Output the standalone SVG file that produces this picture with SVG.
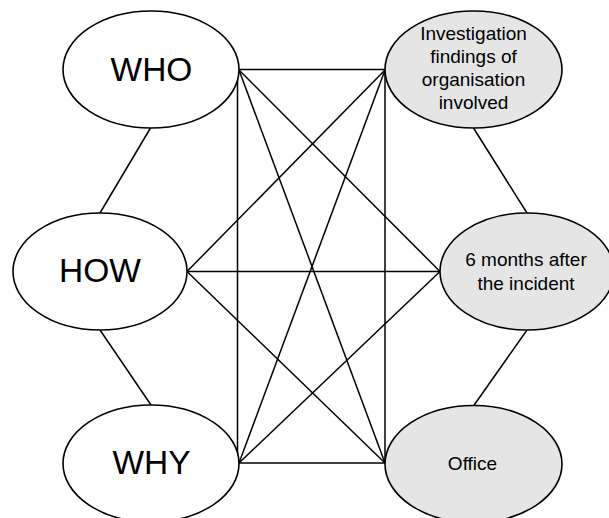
<svg xmlns="http://www.w3.org/2000/svg" width="609" height="518" viewBox="0 0 609 518">
<style>
.bg{fill:#ffffff}
.edge{stroke:#000;stroke-width:1.5;fill:none}
.node ellipse{stroke:#000;stroke-width:1.6}
.q ellipse{fill:#ffffff}
.a ellipse{fill:#e5e5e5}
.big{font-family:"Liberation Sans",Arial,sans-serif;font-size:33.5px;fill:#000;text-anchor:middle}
.small{font-family:"Liberation Sans",Arial,sans-serif;font-size:19px;fill:#000;text-anchor:middle}
</style>
<rect class="bg" x="0" y="0" width="609" height="518"/>
<g id="connectors">
<line class="edge" x1="239" y1="69.5" x2="385" y2="69.5"/>
<line class="edge" x1="187" y1="271.5" x2="440" y2="271.5"/>
<line class="edge" x1="239" y1="463" x2="385" y2="463"/>
<line class="edge" x1="237.5" y1="70" x2="237.5" y2="463"/>
<line class="edge" x1="385" y1="70" x2="385" y2="463"/>
<line class="edge" x1="239" y1="70" x2="440" y2="271.5"/>
<line class="edge" x1="239" y1="70" x2="385" y2="463"/>
<line class="edge" x1="187" y1="271.5" x2="385" y2="70"/>
<line class="edge" x1="187" y1="271.5" x2="385" y2="463"/>
<line class="edge" x1="239" y1="463" x2="385" y2="70"/>
<line class="edge" x1="239" y1="463" x2="440" y2="271.5"/>
<line class="edge" x1="150.5" y1="128" x2="100" y2="213"/>
<line class="edge" x1="100" y1="330" x2="151" y2="405"/>
<line class="edge" x1="473.5" y1="128" x2="527" y2="213"/>
<line class="edge" x1="527" y1="330" x2="473.5" y2="406"/>
</g>
<g id="who" class="node q">
<ellipse cx="151" cy="69.5" rx="88" ry="58.5"/>
<text class="big" x="151.5" y="80.5">WHO</text>
</g>
<g id="how" class="node q">
<ellipse cx="100" cy="271.5" rx="87" ry="58.5"/>
<text class="big" x="100" y="282">HOW</text>
</g>
<g id="why" class="node q">
<ellipse cx="151" cy="463.5" rx="88" ry="58.5"/>
<text class="big" x="151.5" y="474">WHY</text>
</g>
<g id="investigation" class="node a">
<ellipse cx="473.5" cy="69.5" rx="88.5" ry="58.5"/>
<text class="small" x="473.5" y="39.5">Investigation</text>
<text class="small" x="473.5" y="62.5">findings of</text>
<text class="small" x="473.5" y="85.5">organisation</text>
<text class="small" x="473.5" y="108.5">involved</text>
</g>
<g id="months" class="node a">
<ellipse cx="527" cy="271.5" rx="87" ry="58.5"/>
<text class="small" x="526" y="265.5">6 months after</text>
<text class="small" x="526" y="289.5">the incident</text>
</g>
<g id="office" class="node a">
<ellipse cx="473.5" cy="464" rx="88.5" ry="58.5"/>
<text class="small" x="472.5" y="469.5">Office</text>
</g>
</svg>
